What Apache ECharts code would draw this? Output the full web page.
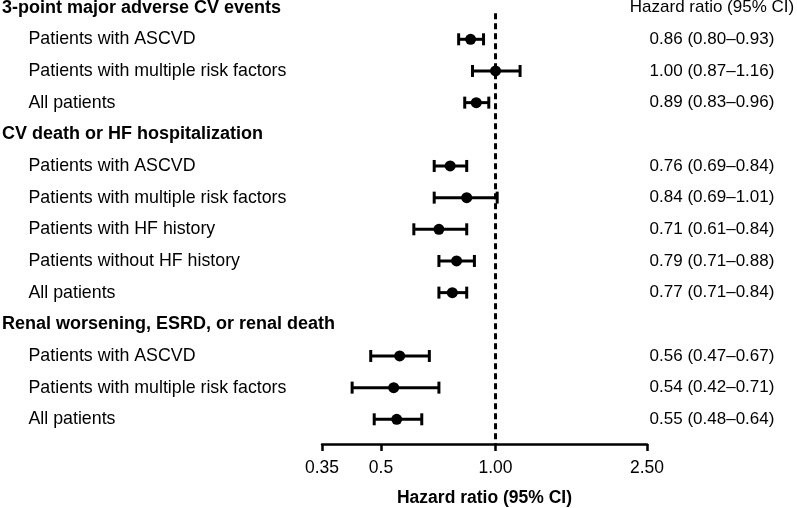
<!DOCTYPE html>
<html>
<head>
<meta charset="utf-8">
<script src="https://cdn.jsdelivr.net/npm/echarts@6/dist/echarts.min.js"></script>
<style>
  html, body { margin: 0; padding: 0; background: #fff; }
  #chart { width: 797px; height: 508px; }
</style>
</head>
<body>
<div id="chart"></div>
<script>
// ---- data ----
const groups = [
  '3-point major adverse CV events',
  'CV death or HF hospitalization',
  'Renal worsening, ESRD, or renal death'
];
const subgroups = [
  ['Patients with ASCVD', 'Patients with multiple risk factors', 'All patients'],
  ['Patients with ASCVD', 'Patients with multiple risk factors', 'Patients with HF history', 'Patients without HF history', 'All patients'],
  ['Patients with ASCVD', 'Patients with multiple risk factors', 'All patients']
];
const hr = [
  [0.86, 1.00, 0.89],
  [0.76, 0.84, 0.71, 0.79, 0.77],
  [0.56, 0.54, 0.55]
];
const ciLow = [
  [0.80, 0.87, 0.83],
  [0.69, 0.69, 0.61, 0.71, 0.71],
  [0.47, 0.42, 0.48]
];
const ciHigh = [
  [0.93, 1.16, 0.96],
  [0.84, 1.01, 0.84, 0.88, 0.84],
  [0.67, 0.71, 0.64]
];
const xTickValues = [0.35, 0.5, 1.00, 2.50];
const xTickLabels = ['0.35', '0.5', '1.00', '2.50'];
const xAxisTitle = 'Hazard ratio (95% CI)';
const rightHeader = 'Hazard ratio (95% CI)';
const refValue = 1.00;

// ---- build slot layout (one slot per text row) ----
const slots = []; // {type, text, g, k}
groups.forEach((g, gi) => {
  slots.push({ type: 'header', text: g, g: gi });
  subgroups[gi].forEach((s, k) => slots.push({ type: 'row', text: s, g: gi, k: k }));
});
const yMin = 0;
const yMax = 13.78;

const pointData = [];
const barData = [];
slots.forEach((s, i) => {
  if (s.type === 'row') {
    pointData.push([hr[s.g][s.k], i]);
    barData.push([ciLow[s.g][s.k], ciHigh[s.g][s.k], i]);
  }
});
const f2 = v => v.toFixed(2);

const FONT = 'Liberation Sans, Arial, Helvetica, sans-serif';

const chart = echarts.init(document.getElementById('chart'), null, { renderer: 'canvas' });
chart.setOption({
  animation: false,
  backgroundColor: '#fff',
  grid: { left: 322, right: 150, top: 7.63, bottom: 64, containLabel: false, outerBoundsMode: 'none' },
  xAxis: {
    type: 'log',
    logBase: 10,
    min: xTickValues[0],
    max: xTickValues[xTickValues.length - 1],
    position: 'bottom',
    axisLine: { show: true, onZero: false, lineStyle: { color: '#000', width: 2.5 } },
    axisTick: { show: true, inside: false, length: 7, lineStyle: { color: '#000', width: 2.5 }, customValues: xTickValues },
    axisLabel: {
      customValues: xTickValues,
      color: '#000', fontSize: 17.5, fontFamily: FONT, margin: 15,
      formatter: v => {
        const idx = xTickValues.findIndex(t => Math.abs(t - v) < 1e-6);
        return idx >= 0 ? xTickLabels[idx] : '';
      }
    },
    splitLine: { show: false },
    minorTick: { show: false },
    name: xAxisTitle,
    nameLocation: 'middle',
    nameGap: 45,
    nameTextStyle: { color: '#000', fontSize: 17.5, fontWeight: 'bold', fontFamily: FONT }
  },
  yAxis: [
    {
      type: 'value', inverse: true, min: yMin, max: yMax, interval: 1,
      position: 'left',
      axisLine: { show: false }, axisTick: { show: false }, splitLine: { show: false },
      axisLabel: {
        show: true, align: 'left', margin: 320, showMaxLabel: true,
        formatter: v => {
          const i = Math.round(v);
          if (Math.abs(v - i) > 1e-6 || !slots[i]) return '';
          return slots[i].type === 'header' ? '{h|' + slots[i].text + '}' : '{r|' + slots[i].text + '}';
        },
        rich: {
          h: { fontSize: 18, fontWeight: 'bold', color: '#000', fontFamily: FONT },
          r: { fontSize: 17.8, color: '#000', fontFamily: FONT, padding: [0, 0, 0, 26.5] }
        }
      }
    },
    {
      type: 'value', inverse: true, min: yMin, max: yMax, interval: 1,
      position: 'right',
      axisLine: { show: false }, axisTick: { show: false }, splitLine: { show: false },
      axisLabel: {
        show: true, align: 'center', margin: 65, color: '#000', fontSize: 17, fontFamily: FONT,
        formatter: v => {
          const i = Math.round(v);
          if (Math.abs(v - i) > 1e-6 || !slots[i]) return '';
          const s = slots[i];
          if (s.type === 'header') return s.g === 0 ? rightHeader : '';
          return f2(hr[s.g][s.k]) + ' (' + f2(ciLow[s.g][s.k]) + '\u2013' + f2(ciHigh[s.g][s.k]) + ')';
        }
      }
    }
  ],
  series: [
    {
      type: 'line',
      data: [[refValue, 0.18], [refValue, yMax]],
      symbol: 'none',
      lineStyle: { color: '#000', width: 3, type: [6, 4] },
      silent: true,
      z: 1
    },
    {
      type: 'custom',
      data: barData,
      encode: { x: [0, 1], y: 2 },
      renderItem: (params, api) => {
        const a = api.coord([api.value(0), api.value(2)]);
        const b = api.coord([api.value(1), api.value(2)]);
        const h = 6;
        const st = { stroke: '#000', lineWidth: 3 };
        return {
          type: 'group',
          children: [
            { type: 'line', shape: { x1: a[0], y1: a[1], x2: b[0], y2: b[1] }, style: st },
            { type: 'line', shape: { x1: a[0], y1: a[1] - h, x2: a[0], y2: a[1] + h }, style: st },
            { type: 'line', shape: { x1: b[0], y1: b[1] - h, x2: b[0], y2: b[1] + h }, style: st }
          ]
        };
      },
      z: 2
    },
    {
      type: 'scatter',
      data: pointData,
      symbol: 'circle',
      symbolSize: 11,
      itemStyle: { color: '#000', opacity: 1 },
      z: 3
    }
  ]
});
</script>
</body>
</html>
